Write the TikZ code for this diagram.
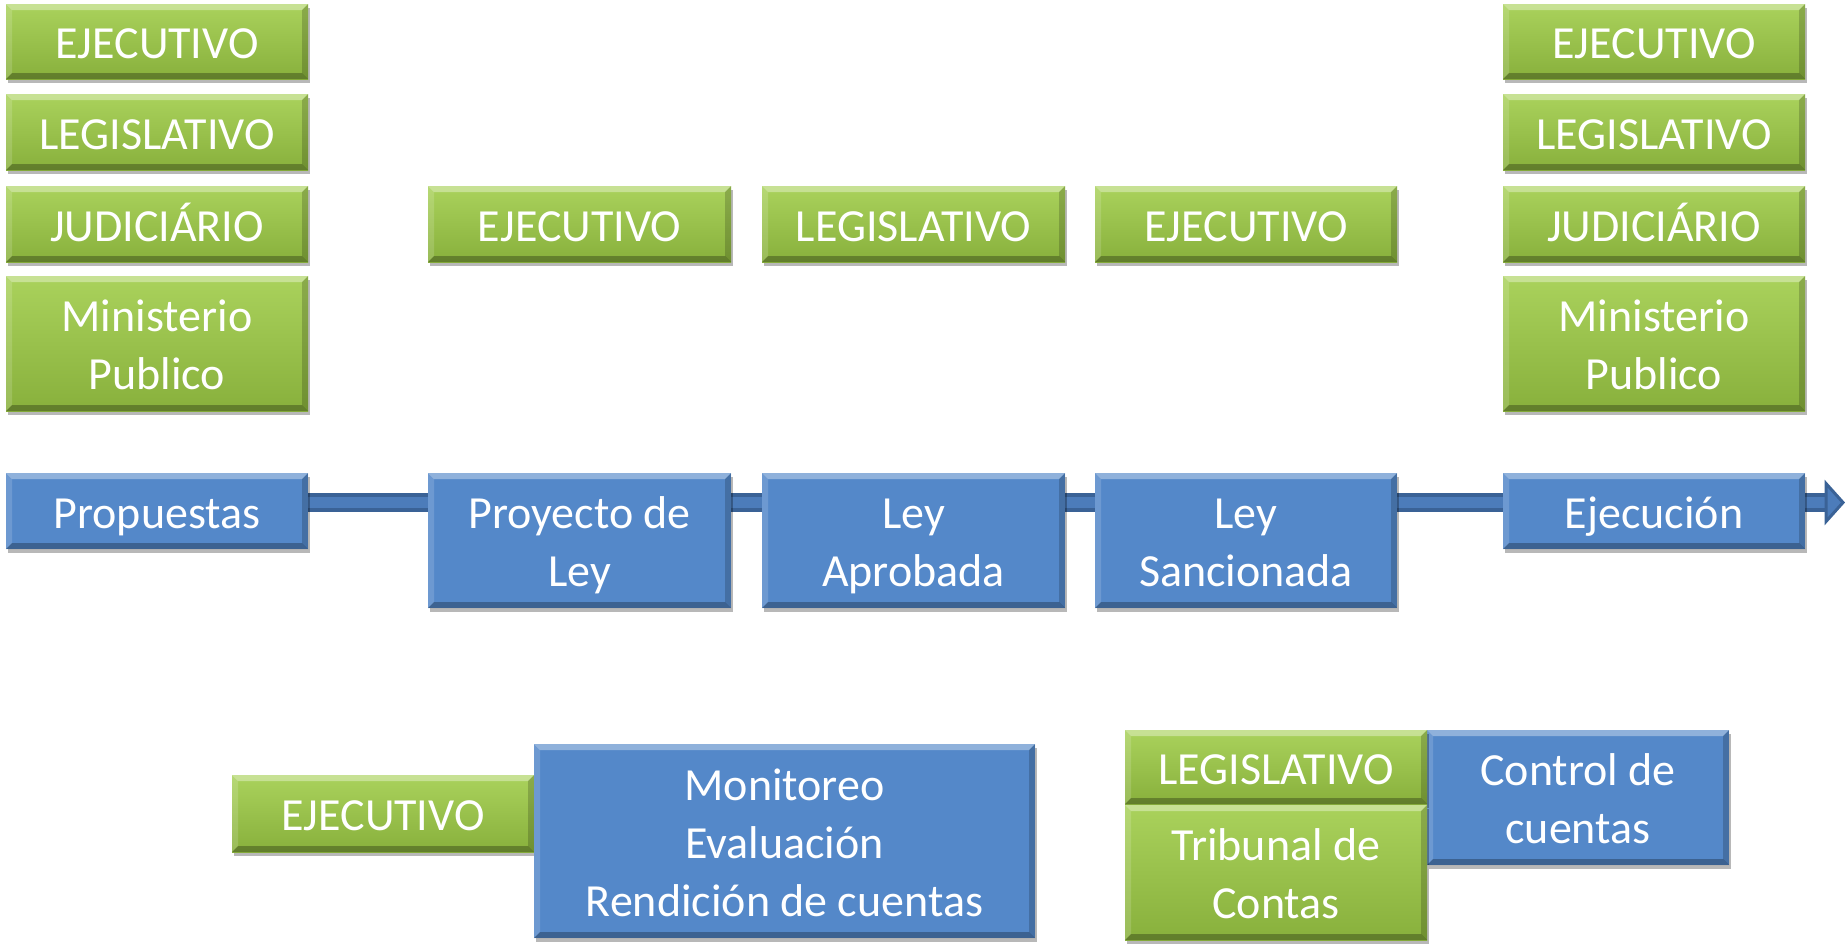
\documentclass[tikz,border=0pt]{standalone}
\usepackage{fontspec}
\setmainfont{Carlito}
\usetikzlibrary{shadows}
\definecolor{bfill}{RGB}{84,136,201}
\definecolor{gtop}{RGB}{170,210,92}
\definecolor{gbot}{RGB}{136,176,60}
\definecolor{shaftdark}{RGB}{58,98,150}
\definecolor{shaftmid}{RGB}{76,124,186}
\newcommand\bigfs{\fontsize{46}{58}\selectfont}
\newcommand\mystrut{\rule[-11.6pt]{0pt}{58pt}}
\tikzset{
  bevel/.style={path picture={
    \fill[white,opacity=.35] (path picture bounding box.north west) -- (path picture bounding box.north east) -- ([shift={(-6pt,-6pt)}]path picture bounding box.north east) -- ([shift={(6pt,-6pt)}]path picture bounding box.north west) -- cycle;
    \fill[white,opacity=.15] (path picture bounding box.north west) -- ([shift={(6pt,-6pt)}]path picture bounding box.north west) -- ([shift={(6pt,6pt)}]path picture bounding box.south west) -- (path picture bounding box.south west) -- cycle;
    \fill[black,opacity=.18] (path picture bounding box.north east) -- ([shift={(-6pt,-6pt)}]path picture bounding box.north east) -- ([shift={(-6pt,6pt)}]path picture bounding box.south east) -- (path picture bounding box.south east) -- cycle;
    \fill[black,opacity=.28] (path picture bounding box.south west) -- ([shift={(6pt,6pt)}]path picture bounding box.south west) -- ([shift={(-6pt,6pt)}]path picture bounding box.south east) -- (path picture bounding box.south east) -- cycle;
  }},
  basebox/.style={rectangle, inner sep=0pt, text=white, font=\bigfs, align=center,
    drop shadow={shadow xshift=2pt, shadow yshift=-4pt, fill=black, opacity=.28}, bevel},
  greenbox/.style={basebox, top color=gtop, bottom color=gbot},
  bluebox/.style={basebox, fill=bfill},
  shaftouter/.style={line width=19pt, shaftdark},
  shaftinner/.style={line width=11pt, shaftmid},
  headstyle/.style={fill=shaftmid, draw=shaftdark, line width=3pt, line join=miter}
}
\newcommand\mybox[7]{\node[#1, minimum width={#4-#2}, minimum height={#5-#3}] (#6) at ({(#2+#4)/2},{(#3+#5)/2}) {\mystrut#7\mystrut};}
\begin{document}
\begin{tikzpicture}[x=1pt,y=-1pt]
\useasboundingbox (0,0) rectangle (1845,943);
% timeline shaft
\coordinate (s0) at (300,502.5);
\coordinate (s1) at (1826,502.5);
\coordinate (tip) at (1843,502.5);
\draw[shaftouter] (s0) -- (s1);
\draw[shaftinner] (s0) -- (s1);
\draw[headstyle] ([yshift=19pt]s1) -- (tip) -- ([yshift=-19pt]s1) -- cycle;
% left column
\mybox{greenbox}{6}{4}{308}{79}{l1}{EJECUTIVO}
\mybox{greenbox}{6}{94}{308}{170}{l2}{LEGISLATIVO}
\mybox{greenbox}{6}{186}{308}{262}{l3}{JUDICIÁRIO}
\mybox{greenbox}{6}{276}{308}{411}{l4}{Ministerio\\Publico}
% middle top
\mybox{greenbox}{428}{186}{731}{262}{m1}{EJECUTIVO}
\mybox{greenbox}{762}{186}{1065}{262}{m2}{LEGISLATIVO}
\mybox{greenbox}{1095}{186}{1397}{262}{m3}{EJECUTIVO}
% right column
\mybox{greenbox}{1503}{4}{1805}{79}{r1}{EJECUTIVO}
\mybox{greenbox}{1503}{94}{1805}{170}{r2}{LEGISLATIVO}
\mybox{greenbox}{1503}{186}{1805}{262}{r3}{JUDICIÁRIO}
\mybox{greenbox}{1503}{276}{1805}{411}{r4}{Ministerio\\Publico}
% timeline boxes
\mybox{bluebox}{6}{473}{308}{549}{p1}{Propuestas}
\mybox{bluebox}{428}{473}{731}{608}{p2}{Proyecto de\\Ley}
\mybox{bluebox}{762}{473}{1065}{608}{p3}{Ley\\Aprobada}
\mybox{bluebox}{1095}{473}{1397}{608}{p4}{Ley\\Sancionada}
\mybox{bluebox}{1503}{473}{1805}{549}{p5}{Ejecución}
% bottom left
\mybox{greenbox}{232}{775}{534}{852}{b1}{EJECUTIVO}
\mybox{bluebox}{534}{744}{1035}{938}{b2}{Monitoreo\\Evaluación\\Rendición de cuentas}
% bottom right
\mybox{bluebox}{1427}{730}{1729}{865}{c3}{Control de\\cuentas}
\mybox{greenbox}{1125}{730}{1427}{804}{c1}{LEGISLATIVO}
\mybox{greenbox}{1125}{805}{1427}{940}{c2}{Tribunal de\\Contas}
\end{tikzpicture}
\end{document}
